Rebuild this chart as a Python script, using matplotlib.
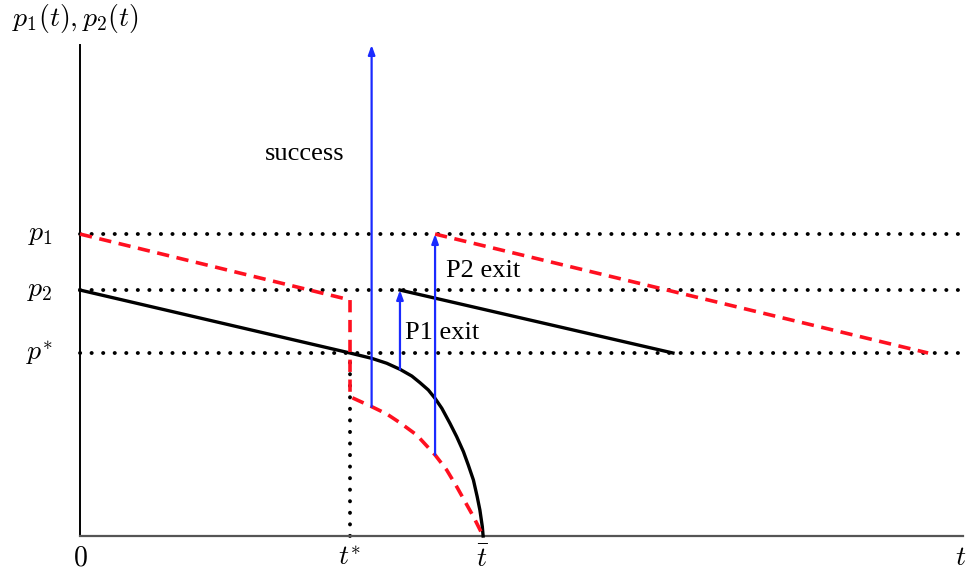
"""
Schematic: beliefs p1(t), p2(t) over time with exit / success jumps
"""
import matplotlib
matplotlib.use('Agg')
import matplotlib.pyplot as plt

plt.rcParams['mathtext.fontset'] = 'cm'
plt.rcParams['font.family'] = ['Liberation Serif', 'DejaVu Serif']

# ── Data (t in units of t*, p in units of p*) ──
t_star, t_bar, t_max = 1.0, 1.493, 3.27
p1, p2, p_star = 1.650, 1.344, 1.0
p_top = 2.683

# player 2 belief (black), before any exit
black_t = [0.0, 1.0, 1.080, 1.136, 1.185, 1.229, 1.259, 1.290, 1.315, 1.340,
           1.370, 1.395, 1.420, 1.438, 1.457, 1.471, 1.481, 1.490, 1.493]
black_p = [1.344, 1.0, 0.971, 0.944, 0.911, 0.874, 0.838, 0.798, 0.752, 0.698,
           0.616, 0.543, 0.461, 0.388, 0.306, 0.215, 0.142, 0.051, 0.0]

# player 1 belief (red dashed), before any exit
red_t = [0.0, 1.0, 1.0, 1.080, 1.136, 1.185, 1.247, 1.315, 1.358, 1.395, 1.426, 1.457, 1.493]
red_p = [1.650, 1.290, 0.761, 0.707, 0.667, 0.619, 0.552, 0.443, 0.361, 0.270, 0.188, 0.106, 0.0]

# after the other player exits
black_after_t = [1.185, 2.196]
black_after_p = [p2, p_star]
red_after_t = [1.315, 3.141]
red_after_p = [p1, p_star]

# jumps: (t, from, to)
jumps = [
    (1.080, 0.707, p_top),
    (1.185, 0.911, p2),
    (1.315, 0.443, p1),
]

fig = plt.figure(figsize=(9.74, 5.81), dpi=100)
ax = fig.add_axes([0, 0, 1, 1])
ax.set_xlim(-0.2963, 3.311)
ax.set_ylim(-0.2459, 2.929)
ax.axis('off')

DOT = dict(color='black', lw=2.8, linestyle=(0, (0.05, 2.92)), dash_capstyle='round')

# guide lines
for lev in (p1, p2, p_star):
    ax.plot([0, t_max], [lev, lev], **DOT)
ax.plot([t_star, t_star], [0, p_star], **DOT)

# axes
ax.plot([0, 0], [0, p_top], color='black', lw=1.4)
ax.plot([0, t_max], [0, 0], color='#555555', lw=1.6)

# curves
RED = '#ff1020'
ax.plot(black_t, black_p, color='black', lw=2.4, solid_joinstyle='round')
ax.plot(black_after_t, black_after_p, color='black', lw=2.4)
ax.plot(red_t, red_p, color=RED, lw=2.6, dashes=(3.4, 2.1))
ax.plot(red_after_t, red_after_p, color=RED, lw=2.6, dashes=(3.4, 2.1))

# jumps
for t, lo, hi in jumps:
    ax.annotate('', xy=(t, hi), xytext=(t, lo),
                arrowprops=dict(arrowstyle='-|>,head_length=0.55,head_width=0.2',
                                color='#1a2aff', lw=1.6, shrinkA=0, shrinkB=0))

ax.text(0.98, 2.09, 'success', fontsize=19, ha='right', va='center')
ax.text(1.205, 1.11, 'P1 exit', fontsize=19, ha='left', va='center')
ax.text(1.355, 1.45, 'P2 exit', fontsize=19, ha='left', va='center')

# tick labels
ax.text(0, -0.055, '$0$', fontsize=20, ha='center', va='top')
ax.text(t_star, -0.055, '$t^{*}$', fontsize=20, ha='center', va='top')
ax.text(t_bar, -0.055, r'$\bar{t}$', fontsize=20, ha='center', va='top')
ax.text(t_max - 0.01, -0.055, '$t$', fontsize=20, ha='center', va='top')
ax.text(-0.10, p1, '$p_1$', fontsize=20, ha='right', va='center')
ax.text(-0.10, p2, '$p_2$', fontsize=20, ha='right', va='center')
ax.text(-0.10, p_star, '$p^{*}$', fontsize=20, ha='right', va='center')
ax.text(-0.252, 2.83, '$p_1(t), p_2(t)$', fontsize=20, ha='left', va='center')

fig.savefig('out.png', dpi=100)
